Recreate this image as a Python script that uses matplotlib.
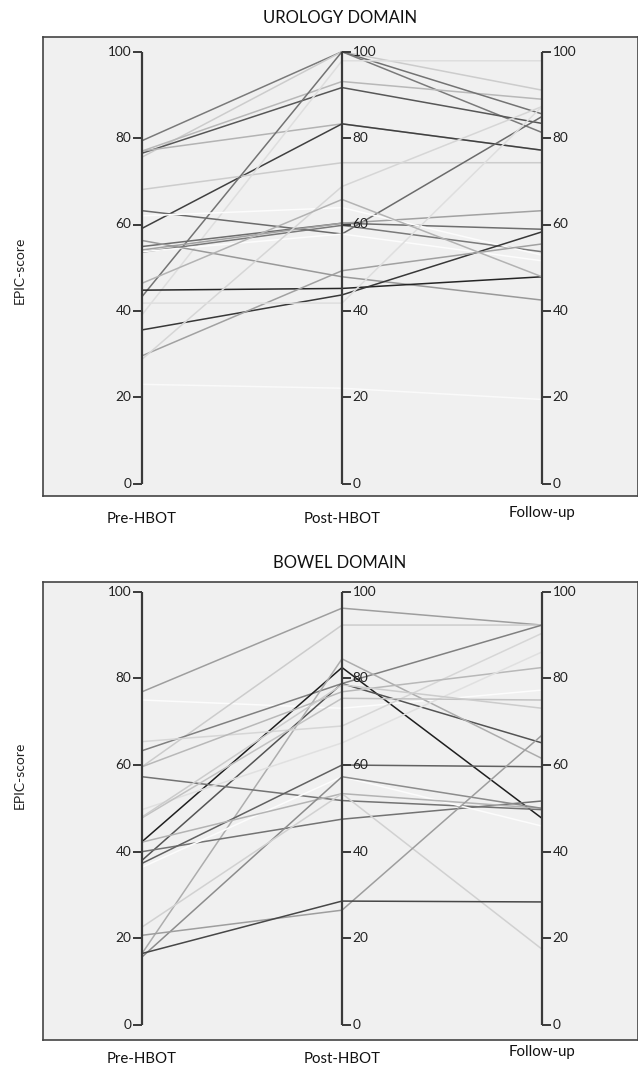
import matplotlib
matplotlib.use("Agg")
import matplotlib.pyplot as plt

plt.rcParams['font.family'] = ['Lato', 'DejaVu Sans']

timepoints = ["Pre-HBOT", "Post-HBOT", "Follow-up"]
y_ticks = [0, 20, 40, 60, 80, 100]

# Urology domain: each patient's (pre, post, follow-up) EPIC score and grey level
uro_pre = [79.4, 75.6, 77.0, 76.5, 77.0, 59.1, 68.1, 43.3, 39.1, 63.2, 54.9, 54.1,
           53.6, 62.0, 53.7, 56.3, 44.8, 35.6, 29.6, 28.8, 41.8, 46.4, 23.0]
uro_post = [100, 100, 93.1, 91.7, 83.3, 83.3, 74.3, 100, 97.9, 57.8, 60.3, 60.3,
            59.8, 63.9, 57.8, 47.9, 45.2, 43.7, 49.3, 68.8, 41.8, 65.8, 22.1]
uro_fu = [81.3, 91.1, 89.0, 83.4, 77.2, 77.2, 74.3, 85.6, 97.9, 85.0, 58.9, 63.2,
          53.7, 52.9, 51.6, 42.5, 47.9, 58.3, 55.5, 87.3, 87.3, 47.9, 19.5]
uro_grey = [0.48, 0.80, 0.72, 0.34, 0.70, 0.25, 0.80, 0.45, 0.87, 0.42, 0.43, 0.63,
            0.48, 0.99, 0.99, 0.60, 0.15, 0.22, 0.63, 0.84, 0.87, 0.70, 0.98]

# Bowel domain
bow_pre = [76.9, 75.0, 59.6, 63.3, 42.3, 38.0, 16.5, 65.4, 59.6, 57.3, 40.0, 37.3,
           36.4, 42.2, 49.7, 47.8, 15.7, 22.6, 20.7, 16.5, 48.0]
bow_post = [96.2, 73.1, 92.3, 78.8, 82.5, 78.8, 84.5, 69.0, 76.9, 51.8, 47.5, 60.0,
            57.3, 53.4, 65.1, 75.4, 57.3, 53.4, 26.5, 28.6, 78.5]
bow_fu = [92.3, 77.3, 92.3, 92.3, 47.7, 65.1, 61.5, 90.4, 82.5, 49.7, 51.7, 59.6,
          45.9, 50.0, 86.1, 75.0, 50.0, 17.5, 66.9, 28.4, 73.1]
bow_grey = [0.62, 0.99, 0.80, 0.50, 0.12, 0.33, 0.68, 0.84, 0.72, 0.45, 0.45, 0.38,
            0.99, 0.70, 0.88, 0.76, 0.55, 0.82, 0.62, 0.28, 0.80]

W, H = 638, 1068
fig = plt.figure(figsize=(W / 100, H / 100), dpi=100)
fig.patch.set_facecolor("white")

axis_col = "#3a3a3a"


def panel(frame_px, y100_px, y0_px, title, ylab_y, pre, post, fu, grey, xlab_offsets):
    left, top, right, bottom = frame_px
    ax = fig.add_axes([left / W, 1 - bottom / H, (right - left) / W, (bottom - top) / H])
    ax.set_facecolor("#f0f0f0")
    ppu_x = 200.0
    x0_px = 142.0
    ax.set_xlim((left - x0_px) / ppu_x, (right - x0_px) / ppu_x)
    ppu_y = (y0_px - y100_px) / 100.0
    ax.set_ylim((y0_px - bottom) / ppu_y, (y0_px - top) / ppu_y)
    ax.set_xticks([])
    ax.set_yticks([])
    for s in ax.spines.values():
        s.set_color("#444444")
        s.set_linewidth(1.2)

    xs = list(range(len(timepoints)))
    for a, b, c, g in zip(pre, post, fu, grey):
        ax.plot(xs, [a, b, c], color=(g, g, g), lw=1.1, zorder=2, solid_capstyle="butt")

    tl = 9 / ppu_x
    for i in xs:
        ax.vlines(i, 0, 100, color=axis_col, lw=1.6, zorder=4)
        side = -1 if i == 0 else 1
        for t in y_ticks:
            ax.hlines(t, i, i + side * tl, color=axis_col, lw=1.4, zorder=4)
            ax.text(i + side * (tl + 1.5 / ppu_x), t, str(t),
                    ha="right" if side < 0 else "left", va="center",
                    fontsize=9.8, color="#222222", zorder=5)

    fig.text(340 / W, 1 - (top - 19) / H, title, ha="center", va="center",
             fontsize=12, color="#111111")
    fig.text(20 / W, 1 - ylab_y / H, "EPIC-score", rotation=90, ha="center",
             va="center", fontsize=10, color="#222222")
    for i, name in enumerate(timepoints):
        fig.text((x0_px + i * ppu_x) / W, 1 - (bottom + xlab_offsets[i]) / H, name,
                 ha="center", va="center", fontsize=10.8, color="#111111")
    return ax


panel((43, 37, 638, 496), 51.7, 483.7, "UROLOGY DOMAIN", 270,
      uro_pre, uro_post, uro_fu, uro_grey, [23, 23, 17])
panel((43, 582, 638, 1040), 591.7, 1025.0, "BOWEL DOMAIN", 775,
      bow_pre, bow_post, bow_fu, bow_grey, [19, 19, 12])

fig.savefig("out.png", dpi=100, facecolor="white")
